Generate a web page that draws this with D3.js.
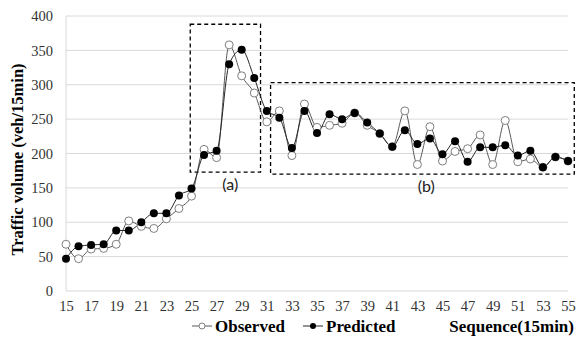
<!DOCTYPE html>
<html>
<head>
<meta charset="utf-8">
<script src="https://cdn.jsdelivr.net/npm/d3@7"></script>
<style>
  body { margin: 0; background: #fff; }
  svg { display: block; }
</style>
</head>
<body>
<svg id="chart" width="577" height="340"></svg>
<script>
// sequence index (15 min intervals)
const sequence = [15, 16, 17, 18, 19, 20, 21, 22, 23, 24, 25, 26, 27, 28, 29, 30, 31, 32, 33, 34, 35,
                  36, 37, 38, 39, 40, 41, 42, 43, 44, 45, 46, 47, 48, 49, 50, 51, 52, 53, 54, 55];

const observed = [68, 47, 61, 62, 68, 102, 94, 91, 105, 120, 138, 206, 194, 358, 313, 288, 246, 262, 197, 272, 238,
                  241, 244, 259, 241, 229, 210, 262, 184, 239, 189, 203, 207, 227, 184, 248, 188, 192, 180, 195, 189];

const predicted = [47, 65, 67, 68, 88, 88, 100, 113, 113, 139, 149, 198, 204, 330, 351, 310, 262, 252, 208, 262, 230,
                   257, 250, 259, 245, 229, 210, 234, 214, 222, 199, 218, 188, 209, 209, 212, 197, 204, 180, 195, 189];

const yTicks = [0, 50, 100, 150, 200, 250, 300, 350, 400];
const xTicks = [15, 17, 19, 21, 23, 25, 27, 29, 31, 33, 35, 37, 39, 41, 43, 45, 47, 49, 51, 53, 55];

// highlighted regions: [x0, x1, y0, y1] in data units
const regionNames = ["(a)", "(b)"];
const regionBoxes = [[24.9, 30.5, 173, 388], [31.3, 55.5, 170, 303]];

const svg = d3.select("#chart");
const margin = { left: 66, right: 568, top: 16, bottom: 291 };
const serif = "'Liberation Serif', 'Times New Roman', Times, serif";

const x = d3.scaleLinear().domain([15, 55]).range([margin.left, margin.right]);
const y = d3.scaleLinear().domain([0, 400]).range([margin.bottom, margin.top]);

// gridlines
svg.append("g")
   .selectAll("line")
   .data(yTicks)
   .join("line")
   .attr("x1", margin.left)
   .attr("x2", margin.right)
   .attr("y1", d => y(d))
   .attr("y2", d => y(d))
   .attr("stroke", "#d9d9d9")
   .attr("stroke-width", 1);

// left axis line
svg.append("line")
   .attr("x1", margin.left).attr("x2", margin.left)
   .attr("y1", y(0)).attr("y2", y(400))
   .attr("stroke", "#d9d9d9");

// y axis labels
const yAxis = svg.append("g")
   .attr("transform", `translate(${margin.left},0)`)
   .call(d3.axisLeft(y).tickValues(yTicks).tickSize(0).tickPadding(13));
yAxis.select(".domain").remove();
yAxis.attr("font-family", null);
yAxis.selectAll("text")
     .style("font-family", serif)
     .style("font-size", "14.5px")
     .attr("fill", "#333");

// x axis labels
const xAxis = svg.append("g")
   .attr("transform", `translate(0,${margin.bottom})`)
   .call(d3.axisBottom(x).tickValues(xTicks).tickSize(0).tickPadding(10));
xAxis.select(".domain").remove();
xAxis.attr("font-family", null);
xAxis.selectAll("text")
     .style("font-family", serif)
     .style("font-size", "14.5px")
     .attr("fill", "#333");

// y axis title
svg.append("text")
   .attr("transform", `translate(23,${(y(0) + y(400)) / 2 + 6}) rotate(-90)`)
   .attr("text-anchor", "middle")
   .style("font-family", serif)
   .style("font-size", "16.5px")
   .style("font-weight", "bold")
   .text("Traffic volume (veh/15min)");

// dashed boxes
svg.append("g")
   .selectAll("rect")
   .data(regionBoxes)
   .join("rect")
   .attr("x", d => x(d[0]))
   .attr("y", d => y(d[3]))
   .attr("width", d => x(d[1]) - x(d[0]))
   .attr("height", d => y(d[2]) - y(d[3]))
   .attr("fill", "none")
   .attr("stroke", "#000")
   .attr("stroke-width", 1.3)
   .attr("stroke-dasharray", "4,3");

svg.append("g")
   .selectAll("text")
   .data(regionNames)
   .join("text")
   .attr("x", (d, i) => i === 0 ? x(regionBoxes[i][0]) + 0.57 * (x(regionBoxes[i][1]) - x(regionBoxes[i][0])) : x(43.7))
   .attr("y", (d, i) => y(regionBoxes[i][2]) + 18)
   .attr("text-anchor", "middle")
   .style("font-family", "Lato, 'Open Sans', sans-serif")
   .style("font-size", "16px")
   .attr("fill", "#222")
   .text(d => d);

// lines
const line = d3.line()
   .x((d, i) => x(sequence[i]))
   .y(d => y(d))
   .curve(d3.curveMonotoneX);

svg.append("path")
   .datum(observed)
   .attr("d", line)
   .attr("fill", "none")
   .attr("stroke", "#595959")
   .attr("stroke-width", 1);

svg.append("path")
   .datum(predicted)
   .attr("d", line)
   .attr("fill", "none")
   .attr("stroke", "#262626")
   .attr("stroke-width", 1);

svg.append("g")
   .selectAll("circle")
   .data(observed)
   .join("circle")
   .attr("cx", (d, i) => x(sequence[i]))
   .attr("cy", d => y(d))
   .attr("r", 4)
   .attr("fill", "#fff")
   .attr("stroke", "#7f7f7f")
   .attr("stroke-width", 1);

svg.append("g")
   .selectAll("circle")
   .data(predicted)
   .join("circle")
   .attr("cx", (d, i) => x(sequence[i]))
   .attr("cy", d => y(d))
   .attr("r", 4)
   .attr("fill", "#000");

// legend
const legendY = 326;
const legend = svg.append("g")
   .style("font-family", serif)
   .style("font-size", "17px")
   .style("font-weight", "bold");

legend.append("line").attr("x1", 192).attr("x2", 212).attr("y1", legendY).attr("y2", legendY)
      .attr("stroke", "#595959");
legend.append("circle").attr("cx", 202).attr("cy", legendY).attr("r", 3)
      .attr("fill", "#fff").attr("stroke", "#7f7f7f");
legend.append("text").attr("x", 215).attr("y", legendY + 6).text("Observed");

legend.append("line").attr("x1", 303).attr("x2", 323).attr("y1", legendY).attr("y2", legendY)
      .attr("stroke", "#262626");
legend.append("circle").attr("cx", 313).attr("cy", legendY).attr("r", 3).attr("fill", "#000");
legend.append("text").attr("x", 326).attr("y", legendY + 6).text("Predicted");

legend.append("text").attr("x", 574).attr("y", legendY + 6).attr("text-anchor", "end")
      .text("Sequence(15min)");
</script>
</body>
</html>
